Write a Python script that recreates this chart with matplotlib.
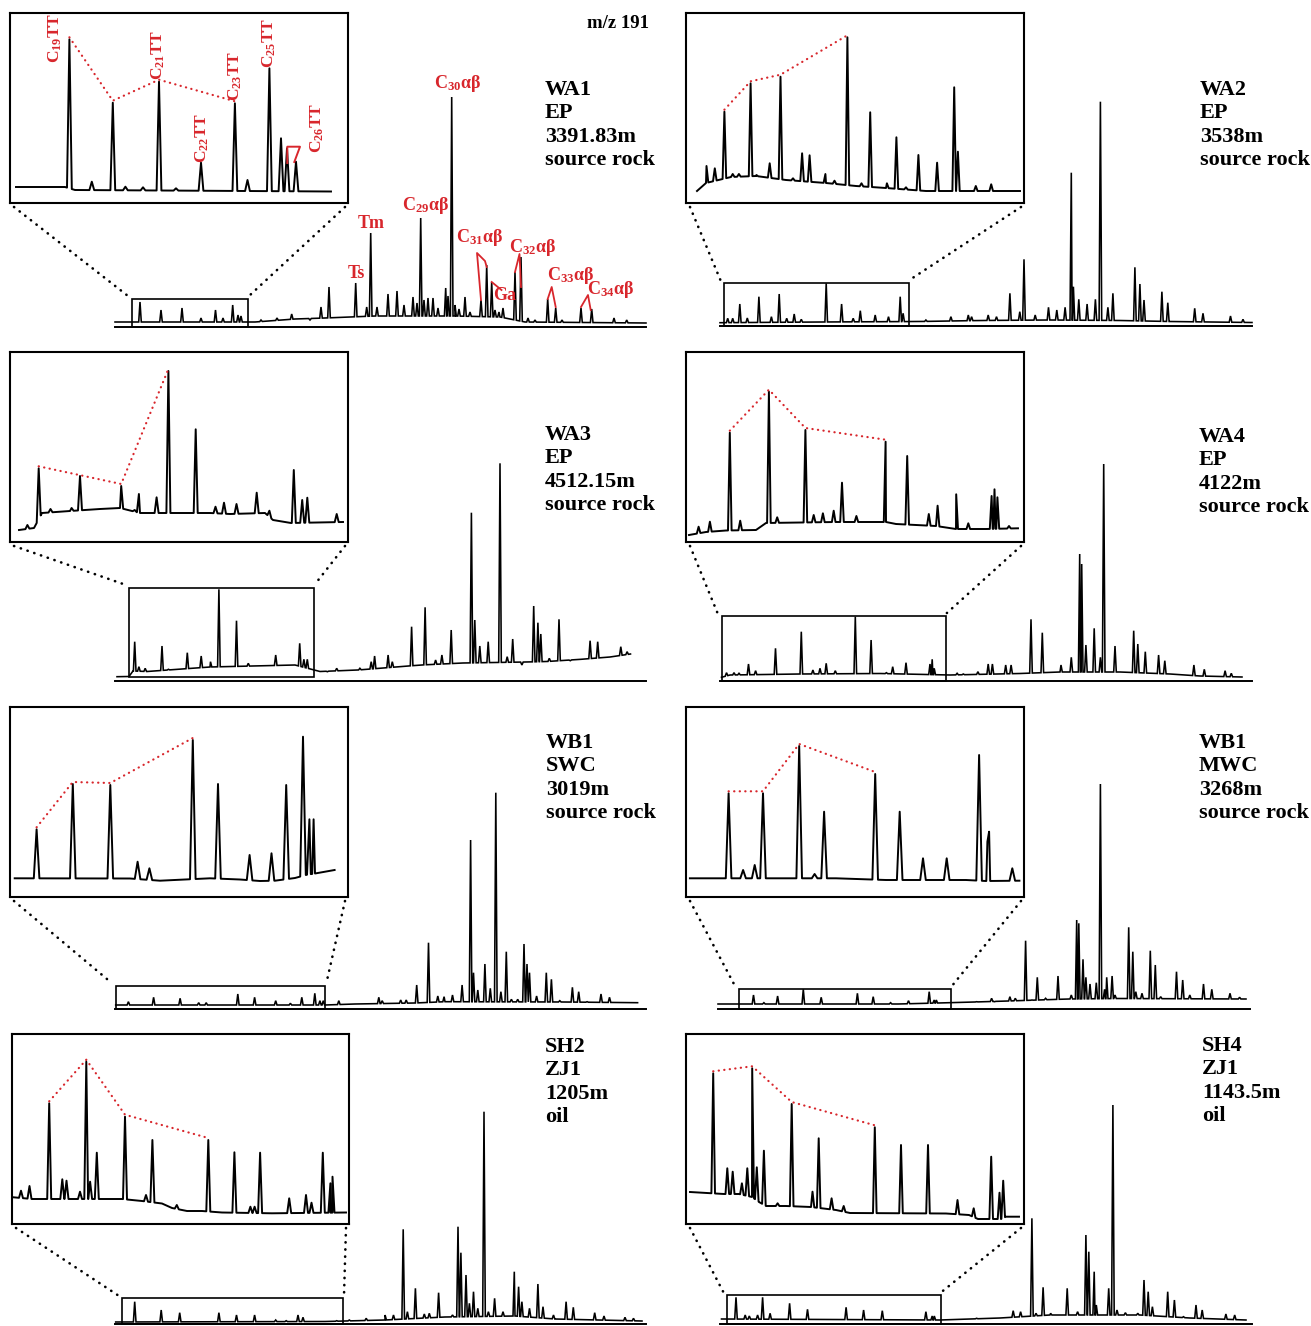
import numpy as np
import matplotlib
matplotlib.use("Agg")
import matplotlib.pyplot as plt
from matplotlib.patches import Rectangle, ConnectionPatch

plt.rcParams["font.family"] = ["Liberation Serif", "DejaVu Serif"]
plt.rcParams["font.weight"] = "bold"
plt.rcParams["mathtext.fontset"] = "custom"
plt.rcParams["mathtext.rm"] = "Liberation Serif:bold"
plt.rcParams["mathtext.it"] = "Liberation Serif:italic:bold"
plt.rcParams["mathtext.bf"] = "Liberation Serif:bold"

RED = "#d8262c"
W, H = 1311, 1326

# ---------------------------------------------------------------------------
# Data: peaks are (retention, abundance),
# base are baseline levels along each trace
# ---------------------------------------------------------------------------
wa1_peaks = [(25, 25), (46, 17), (67, 19), (86, 9), (100.5, 17), (108, 9), (117.7, 22), (123, 12),
             (126, 11), (146, 7), (162, 9), (176.7, 13), (195, 7), (206, 20), (214, 40), (240.7, 44),
             (251.7, 20), (255.7, 94), (262, 20), (273, 33), (282, 36), (289, 22), (298, 30), (302, 24),
             (305.7, 109), (309, 27), (313, 29), (318, 29), (323, 19), (330.7, 39), (333, 31),
             (336.7, 230), (340, 22), (344, 18), (350, 30), (355, 15), (366, 27), (371.7, 62),
             (376.7, 45), (380, 17), (384, 15), (388, 19), (400, 55), (406, 70), (413, 9), (420, 7),
             (432.7, 28), (440.7, 19), (447, 7), (466, 19), (476.7, 18), (499, 9), (511.7, 7)]
wa1_base = [(0, 5), (140, 5), (180, 8), (210, 9), (260, 11), (340, 11), (385, 10), (410, 5), (531, 4)]
wa1_ins_peaks = [(59.4, 163.7), (81.8, 21.3), (102.8, 100.3), (115.4, 16.3), (133, 15.7), (149, 121.3),
                 (166, 14.7), (191, 40.3), (224.9, 99.7), (237.5, 23), (259.4, 134.7), (271, 64.7),
                 (277, 54.7), (286, 41.3)]
wa1_ins_base = [(6, 16), (55, 16), (65, 13), (321, 11.5)]
wa1_tt = [0, 2, 5, 8]

wa2_peaks = [(7.7, 7.7), (12.7, 7.7), (19.8, 22), (27.3, 8), (38.9, 29.3), (51.4, 9.3), (59.2, 32),
             (66.7, 7.7), (74.2, 12), (81.3, 6.7), (106.2, 42.7), (121.6, 22), (133.2, 7.7), (140.3, 15.3),
             (155.2, 11), (168.5, 9.3), (180.2, 29.3), (183.1, 12.7), (205.9, 6), (230.9, 9.3), (248.3, 11),
             (251.6, 9.3), (268.2, 11), (276.5, 9.3), (289.9, 32.7), (299.8, 14.3), (304, 66.7), (315.2, 11),
             (328.5, 18.7), (336.8, 16), (345.1, 18.7), (351.3, 153.3), (353.4, 39.3), (358.8, 26.7),
             (367.1, 22), (375.4, 26.7), (380.4, 224.3), (387.9, 18.7), (392.9, 32.7), (414.9, 58.7),
             (419.9, 42), (424, 26), (441.9, 34.3), (447.8, 23.3), (474.7, 17.7), (483, 12.7), (510.5, 10),
             (523, 6.7)]
wa2_base = [(0, 3.3), (100, 4), (200, 4.5), (260, 5.5), (330, 6), (400, 5.5), (450, 4.5), (532, 3.5)]
wa2_ins_peaks = [(20.5, 37), (28.8, 34.7), (38.4, 91.3), (46.7, 29), (52.9, 29), (64.6, 119.7), (70.4, 28),
                 (83.7, 39.7), (94.5, 126.3), (107, 24.7), (116.1, 49.7), (123.6, 47.7), (139.4, 29),
                 (148.5, 22.3), (161.4, 165.7), (175.5, 19.7), (184.2, 90.7), (200.9, 19.7), (210.4, 65.7),
                 (220, 15.7), (232.4, 48), (251.1, 40.3), (268.2, 115.7), (271.9, 51.3), (289.8, 17),
                 (305.2, 18.7)]
wa2_ins_base = [(11, 12), (20, 20), (45, 26), (70, 27), (100, 23), (140, 20), (170, 17), (200, 15),
                (240, 12), (334, 12)]
wa2_tt = [2, 5, 8, 14]

wa3_peaks = [(19.7, 39.3), (23.9, 14.3), (30.2, 12.7), (47, 35), (53.4, 11.7), (72.3, 28.3), (86.2, 25),
             (95.5, 19.3), (103.9, 91.7), (121.5, 60.3), (133.3, 17.7), (160.7, 26), (184.7, 37.7),
             (188.9, 21.7), (192.3, 21.7), (212.4, 9.3), (221.7, 12.7), (244.9, 12.7), (256.2, 19.3),
             (259.6, 25), (273.1, 26), (277.3, 19.3), (296.6, 54.3), (310.1, 73.7), (320.6, 21), (326.9, 26),
             (336.2, 51), (356.4, 168.3), (359.8, 61), (364.8, 35), (373.2, 39.3), (385, 217.7),
             (392.2, 24.3), (397.7, 42), (406.9, 16), (418.7, 75), (422.9, 58.3), (425.8, 47), (434.3, 22.7),
             (444, 61.7), (455.3, 20.3), (475.1, 40.3), (482.7, 39.3), (505.8, 34.3), (512.1, 29.3)]
wa3_base = [(2, 4.3), (14, 4.5), (18, 10), (32, 9.5), (95, 14), (180, 16), (205, 9.5), (243, 11), (306, 16),
            (348, 18), (411, 19), (432, 19.5), (466, 21.7), (495, 24), (515.5, 27)]
wa3_ins_peaks = [(17.4, 17), (28.7, 73.7), (40.5, 33), (61.6, 34), (70, 66), (111.2, 56), (124.7, 32),
                 (128.9, 48), (146.6, 44.7), (158.4, 171), (185.7, 112.7), (205.5, 35.3), (214, 39.3),
                 (226.5, 38), (246.7, 49.3), (259.4, 31.3), (283.8, 72), (292.2, 42), (297.3, 44.3),
                 (326.7, 28)]
wa3_ins_base = [(9, 12), (24, 14), (32, 29), (60, 31), (90, 33), (110, 34), (130, 29), (165, 29), (200, 29),
                (220, 28), (255, 29), (263, 22), (281, 19), (333, 20)]
wa3_tt = [1, 5, 9]

wa4_peaks = [(6.5, 8.3), (14, 8.3), (19, 7.7), (28.5, 17), (35.6, 10.3), (55.5, 32.7), (81.3, 49.3),
             (92.9, 11), (100, 12.7), (106.2, 17.7), (115.3, 10.3), (135.3, 64.3), (151.1, 41), (166.4, 8.3),
             (172.7, 14.3), (186, 18.3), (210, 17), (212.2, 21.7), (214.2, 12.7), (237.1, 7.7), (243.3, 7),
             (257.9, 9.3), (268.2, 17), (272.4, 17), (285.7, 16), (291.1, 16), (311, 61.7), (322.3, 48.3),
             (341, 16), (351.3, 23.7), (359.7, 127), (361.7, 117), (365.9, 36), (374.2, 52.7), (380.4, 23.7),
             (383.7, 217), (395, 35), (413.7, 50.3), (417.8, 37), (425.3, 29.3), (438.6, 26), (444.8, 20.3),
             (473.9, 16), (484.3, 11.7), (505.1, 10.3), (511.3, 7.7)]
wa4_base = [(1.5, 3.7), (10, 6), (80, 7), (160, 7.5), (230, 6), (300, 7.5), (340, 9), (400, 9), (450, 7),
            (480, 5), (522, 4)]
wa4_ins_peaks = [(12.6, 15.3), (23.9, 20.3), (43.8, 109.3), (54.2, 21.3), (82.9, 150.3), (91.2, 24.7),
                 (119.4, 112), (127.7, 27), (136.9, 28.7), (147.7, 31.3), (156, 59.3), (170.4, 26),
                 (199.6, 100.3), (221.2, 86), (242.8, 28), (251.6, 36.3), (270.2, 47.7), (282.3, 18.7),
                 (305.6, 46), (308.5, 52.7), (311.4, 44.7), (323, 16)]
wa4_ins_base = [(3, 7), (20, 10), (40, 11.5), (70, 12), (80, 19), (150, 20), (200, 20), (210, 18),
                (250, 16), (270, 13), (300, 13), (332, 13.7)]
wa4_tt = [2, 4, 6, 12]

swc_peaks = [(13.4, 7.3), (38.6, 11.7), (65.1, 10.7), (83.7, 6.3), (91.2, 6.3), (122.8, 15), (139.6, 11.7),
             (160.7, 8.3), (175.4, 5.7), (186.8, 11.7), (199.8, 15.7), (204.9, 8.3), (208.3, 8.3),
             (223.8, 8.3), (263.8, 11.7), (267.2, 8.3), (285.7, 9), (291.2, 9), (301.7, 24), (313.5, 66.3),
             (322.8, 13), (329.1, 12.3), (337.5, 14), (347.1, 24), (355.6, 169), (358.5, 36.3), (362.8, 19),
             (369.9, 45), (375.3, 20.7), (380.8, 216.3), (385.9, 17.3), (391.3, 57.3), (396.4, 9.7),
             (402.7, 9.7), (409, 65), (412, 45), (414.5, 36.3), (421.6, 13), (431.3, 36.3), (436.4, 29.7),
             (444.8, 8.3), (457.4, 21.7), (463.7, 17.3), (472.1, 7.3), (486, 15), (494.5, 11.7)]
swc_base = [(0.7, 4), (210, 4), (240, 5), (300, 6), (330, 7.3), (450, 7), (522.6, 6.3)]
swc_ins_peaks = [(26.6, 67.7), (62.8, 113), (100.3, 112), (127.6, 35.3), (139.4, 28.7), (182.8, 157),
                 (208, 113), (239.6, 42), (261.5, 43.7), (276.2, 112), (293, 160.3), (299.4, 77.7),
                 (303.6, 77.7)]
swc_ins_base = [(4.7, 18.7), (120, 18.5), (150, 16.3), (200, 18.7), (230, 17.5), (250, 16), (265, 16.3),
                (285, 19), (297, 22.3), (305, 23.5), (324.6, 27)]
swc_tt = [0, 1, 2, 5]

mwc_peaks = [(35.5, 14), (45.9, 6.3), (59.6, 13), (85.3, 19.7), (103.2, 11.7), (139.4, 15.7), (155.2, 12.3),
             (172.6, 6.3), (190.5, 8.3), (211.2, 17.3), (216.2, 9), (218.3, 9), (234.9, 6.3), (258.6, 7.3),
             (273.6, 10.7), (276.5, 7.3), (291.9, 12.3), (297.3, 10.7), (307.6, 68.3), (313.9, 9),
             (319.3, 31.7), (327.6, 10.7), (340, 33), (353.3, 14), (358.7, 89), (360.8, 85.7), (365, 49.7),
             (367.9, 31.7), (372, 25), (378.3, 26.3), (382.4, 225), (386.6, 19.7), (388.7, 31.7), (394.1, 33),
             (397, 14), (410.7, 81.7), (414.8, 57.3), (417.8, 17.3), (424, 15.7), (432.3, 58.3), (437.3, 44),
             (442.7, 12.3), (458.5, 37.3), (464.7, 29), (471.8, 14), (485.5, 25), (493.8, 19.7), (512, 15.7),
             (521.6, 11.7)]
mwc_base = [(0, 5), (180, 5), (240, 6.5), (290, 8), (350, 10), (400, 10.5), (528, 10)]
mwc_ins_peaks = [(42.6, 103.7), (57.1, 27), (68.7, 32), (77, 103.7), (113.2, 151), (128.6, 23), (138.1, 85.3),
                 (189.2, 123), (213.7, 85.3), (237, 38.7), (260.7, 38.7), (293.1, 142), (301.4, 55.3),
                 (303.1, 65.3), (326.3, 28.7)]
mwc_ins_base = [(3.9, 18.7), (150, 18.7), (200, 17), (280, 17), (300, 16), (333.4, 16.3)]
mwc_tt = [0, 3, 4, 7]

sh2_peaks = [(19.7, 22.3), (46.2, 14), (64.7, 11.3), (103.9, 11.3), (121.5, 9), (139.6, 9), (160.7, 4),
             (171.2, 3.3), (183, 9), (188, 6.7), (221.7, 3.3), (234.3, 4), (251.2, 5.7), (270.1, 9),
             (278.5, 9), (288.2, 94.7), (292.4, 12.3), (300.4, 35.7), (309.3, 10), (314.3, 10.7),
             (323.6, 31.3), (337.5, 9), (343, 97.3), (345.9, 71.3), (351, 49), (354.4, 20.7), (358.5, 32.3),
             (362.8, 15.7), (369, 212.3), (373.4, 12.3), (379.6, 25.7), (388, 12.3), (399.3, 52.3),
             (403.6, 37.3), (406.9, 22.3), (414.5, 15.7), (422.9, 40), (428, 17.3), (438.5, 9),
             (451.1, 22.3), (458.3, 16.7), (479.7, 11.3), (489, 8), (510, 6.7), (518.5, 5.7)]
sh2_base = [(0.7, 2), (210, 2.5), (270, 4), (330, 7), (400, 8), (440, 5), (527, 3)]
sh2_ins_peaks = [(9, 33.3), (17.5, 38), (37.2, 120.7), (50.3, 44.7), (54.5, 43.3), (68, 32.3), (74.3, 162.3),
                 (78.1, 42.3), (84.8, 71.3), (113, 107.3), (134, 29), (140.4, 84), (164.8, 19), (196.3, 84),
                 (222.4, 71.7), (238.4, 17.3), (242.6, 17.3), (248.1, 71.3), (277.2, 25.7), (294, 29),
                 (299.5, 21.3), (310.8, 71.3), (318.4, 40.7), (320.5, 47.3)]
sh2_ins_base = [(1.5, 26.7), (20, 25), (60, 25), (110, 25), (130, 23), (150, 20.5), (160, 16), (175, 13),
                (190, 13), (210, 11.5), (260, 10.7), (334, 11.5)]
sh2_tt = [2, 6, 9, 13]

sh4_peaks = [(16, 26.7), (25.2, 9), (29.3, 8), (37.6, 9), (42.6, 26.7), (50.1, 10.7), (69.6, 20.7),
             (87.5, 14.7), (126.1, 16.7), (143.6, 14), (162.3, 13.3), (205.9, 12.3), (212.2, 8), (214.3, 8),
             (243.3, 4.7), (256.6, 5.7), (272.4, 5.7), (293.2, 13.3), (300.6, 12.3), (311.9, 105.7),
             (316, 10.7), (323.1, 36.7), (330.6, 10.7), (347.2, 35.7), (357.6, 12.3), (365.9, 89),
             (368.8, 72.3), (374.2, 52.3), (376.3, 19), (388.7, 35.7), (392.9, 219), (397, 14),
             (405.4, 11.3), (417.8, 10.7), (424, 44), (428.2, 32.3), (432.4, 17.3), (447.7, 32.3),
             (454.4, 24), (463.5, 7.3), (476, 19), (482.2, 14), (505.9, 10), (514.7, 9)]
sh4_base = [(1.5, 5), (220, 4), (280, 6), (330, 9), (420, 9), (470, 6), (526, 4)]
sh4_ins_peaks = [(27.2, 150.7), (41.3, 55.7), (46.7, 52.3), (55.9, 40.7), (61.3, 55.7), (66.2, 155.7),
                 (70.8, 56.7), (77.9, 73.3), (91.6, 20.7), (105.7, 120), (126.5, 32.3), (132.7, 85.7),
                 (145.6, 25.7), (157.7, 18), (188.8, 96.7), (215, 79), (242, 79), (271.5, 24), (287.7, 15.7),
                 (305.2, 67.3), (313.5, 31.3), (317.2, 43.3)]
sh4_ins_base = [(4, 32), (38, 30), (53, 30), (66, 27), (73, 22), (80, 18), (100, 18), (125, 17), (150, 14),
                (164, 11), (260, 10.5), (283, 9), (292, 5), (315, 5), (320, 7.3), (333, 7.3)]
sh4_tt = [0, 5, 9, 14]

sample_info = [["WA1", "EP", "3391.83m", "source rock"],
               ["WA2", "EP", "3538m", "source rock"],
               ["WA3", "EP", "4512.15m", "source rock"],
               ["WA4", "EP", "4122m", "source rock"],
               ["WB1", "SWC", "3019m", "source rock"],
               ["WB1", "MWC", "3268m", "source rock"],
               ["SH2", "ZJ1", "1205m", "oil"],
               ["SH4", "ZJ1", "1143.5m", "oil"]]

# WA1 peak identifications
hopane_labels = [r"C$_{\mathrm{30}}$αβ", r"C$_{\mathrm{29}}$αβ", "Tm", "Ts", r"C$_{\mathrm{31}}$αβ",
                 r"C$_{\mathrm{32}}$αβ", "Ga", r"C$_{\mathrm{33}}$αβ", r"C$_{\mathrm{34}}$αβ"]
tt_labels = [r"C$_{\mathrm{19}}$TT", r"C$_{\mathrm{21}}$TT", r"C$_{\mathrm{22}}$TT", r"C$_{\mathrm{23}}$TT",
             r"C$_{\mathrm{25}}$TT", r"C$_{\mathrm{26}}$TT"]

# ---------------------------------------------------------------------------
# Layout (pixels of the output image)
# main: axis line x0, x1, y ; zoom: box r0, r1, bottom, top ; inset: left, top, w, h
# ---------------------------------------------------------------------------
panels = [
    dict(peaks=wa1_peaks, base=wa1_base, ipeaks=wa1_ins_peaks, ibase=wa1_ins_base, tt=wa1_tt,
         main=(115, 646, 327), zoom=(17, 133, 0, 28), inset=(10, 13, 338, 190), iw=2.4, text=(545, 90)),
    dict(peaks=wa2_peaks, base=wa2_base, ipeaks=wa2_ins_peaks, ibase=wa2_ins_base, tt=wa2_tt,
         main=(720, 1252, 326), zoom=(4.4, 188.5, 0, 43), inset=(686, 13, 338, 190), iw=1.8, text=(1200, 90)),
    dict(peaks=wa3_peaks, base=wa3_base, ipeaks=wa3_ins_peaks, ibase=wa3_ins_base, tt=wa3_tt,
         main=(115, 646, 681), zoom=(14.2, 198.6, 3.5, 93.3), inset=(10, 352, 338, 190), iw=2.0, text=(545, 435)),
    dict(peaks=wa4_peaks, base=wa4_base, ipeaks=wa4_ins_peaks, ibase=wa4_ins_base, tt=wa4_tt,
         main=(720, 1252, 681), zoom=(1.5, 225.9, 0, 65), inset=(686, 352, 338, 190), iw=1.8, text=(1199, 437)),
    dict(peaks=swc_peaks, base=swc_base, ipeaks=swc_ins_peaks, ibase=swc_ins_base, tt=swc_tt,
         main=(115, 646, 1009), zoom=(0.7, 210.4, 0, 23), inset=(10, 707, 338, 190), iw=2.8, text=(546, 743)),
    dict(peaks=mwc_peaks, base=mwc_base, ipeaks=mwc_ins_peaks, ibase=mwc_ins_base, tt=mwc_tt,
         main=(718, 1250, 1009), zoom=(21, 232.9, 0, 20), inset=(686, 707, 338, 190), iw=2.8, text=(1199, 743)),
    dict(peaks=sh2_peaks, base=sh2_base, ipeaks=sh2_ins_peaks, ibase=sh2_ins_base, tt=sh2_tt,
         main=(115, 646, 1324), zoom=(7, 228, 0, 25.7), inset=(12, 1034, 337, 190), iw=2.0, text=(545, 1047)),
    dict(peaks=sh4_peaks, base=sh4_base, ipeaks=sh4_ins_peaks, ibase=sh4_ins_base, tt=sh4_tt,
         main=(720, 1252, 1324), zoom=(7.3, 220.5, 0, 29), inset=(686, 1034, 338, 190), iw=1.8, text=(1202, 1046)),
]
MAIN_H = 240

fig = plt.figure(figsize=(W / 100, H / 100), dpi=100)


def px_axes(left, top, width, height):
    ax = fig.add_axes([left / W, 1 - (top + height) / H, width / W, height / H])
    ax.set_xticks([])
    ax.set_yticks([])
    ax.patch.set_visible(False)
    return ax


def trace(peaks, base, w):
    # baseline knots plus a narrow triangle for every peak
    bx, by = np.array(base, dtype=float).T
    px, py = np.array(peaks, dtype=float).T
    feet = np.concatenate([px - w, px + w])
    x = np.concatenate([bx, feet, px])
    y = np.concatenate([by, np.interp(feet, bx, by), py])
    order = np.argsort(x, kind="stable")
    return x[order], y[order]


axes_main = []
axes_inset = []
for p, info in zip(panels, sample_info):
    x0, x1, yax = p["main"]
    ax = px_axes(x0, yax - MAIN_H, x1 - x0, MAIN_H)
    ax.set_xlim(0, x1 - x0)
    ax.set_ylim(0, MAIN_H)
    for s in ("top", "left", "right"):
        ax.spines[s].set_visible(False)
    ax.spines["bottom"].set_linewidth(1.4)
    tx, ty = trace(p["peaks"], p["base"], 1.3)
    ax.plot(tx, ty, color="black", lw=1.15, solid_joinstyle="miter", clip_on=False)

    r0, r1, zb, zt = p["zoom"]
    ax.add_patch(Rectangle((r0, zb), r1 - r0, zt - zb, fill=False, ec="black", lw=1.2, clip_on=False))

    il, it, iw_, ih = p["inset"]
    ins = px_axes(il, it, iw_, ih)
    ins.set_xlim(0, iw_)
    ins.set_ylim(0, ih)
    for s in ins.spines.values():
        s.set_linewidth(1.5)
    ix, iy = trace(p["ipeaks"], p["ibase"], p["iw"])
    ins.plot(ix, iy, color="black", lw=1.4)
    tt = np.array(p["ipeaks"])[p["tt"]]
    ins.plot(tt[:, 0], tt[:, 1] + 2, color=RED, lw=1.6, linestyle=(0, (0.1, 2.4)),
             dash_capstyle="round")

    # dotted connectors from inset corners to the zoom box
    for xa, xb in [(4, r0 - 4), (iw_ - 3, r1 + 1)]:
        con = ConnectionPatch(xyA=(xa, -4), coordsA=ins.transData, xyB=(xb, zt + 3), coordsB=ax.transData,
                              color="black", lw=1.9, linestyle=(0, (0.1, 2.6)), capstyle="round")
        fig.add_artist(con)

    tx0, ty0 = p["text"]
    for i, line in enumerate(info):
        fig.text(tx0 / W, 1 - (ty0 + i * 23.3) / H, line, fontsize=16, fontweight="bold",
                 ha="left", va="center")
    axes_main.append(ax)
    axes_inset.append(ins)

fig.text(618 / W, 1 - 24 / H, "m/z 191", fontsize=13.5, fontweight="bold", ha="center", va="center")

# WA1 annotations
ax = axes_main[0]
label_pos = [(343, 244), (311, 122), (256, 103), (241, 54), (365, 89), (418, 79), (390, 31), (456, 52), (496, 37)]
for lab, (x, y) in zip(hopane_labels, label_pos):
    ax.text(x, y, lab, color=RED, fontsize=13, fontweight="bold", ha="center", va="center")
brackets = [
    [(366, 27), (362, 74), (370, 66), (371.7, 60)],
    [(376.7, 45), (386.5, 37)],
    [(400, 55), (404.5, 73), (406, 40)],
    [(432.7, 28), (436.7, 40), (440.7, 20)],
    [(466, 20), (473, 32), (475.7, 17)],
]
for br in brackets:
    b = np.array(br)
    ax.plot(b[:, 0], b[:, 1], color=RED, lw=1.3, clip_on=False)

ins = axes_inset[0]
tt_pos = [(45.5, 165.5), (148.8, 148), (192, 65.5), (225, 127), (259.5, 160), (307, 75.5)]
for lab, (x, y) in zip(tt_labels, tt_pos):
    ins.text(x, y, lab, color=RED, fontsize=12.5, fontweight="bold", rotation=90, ha="center", va="center")
b = np.array([(277.3, 40), (277.3, 56.3), (290, 56.3), (284.3, 41)])
ins.plot(b[:, 0], b[:, 1], color=RED, lw=1.4)

fig.savefig("out.png", dpi=100, facecolor="white")
